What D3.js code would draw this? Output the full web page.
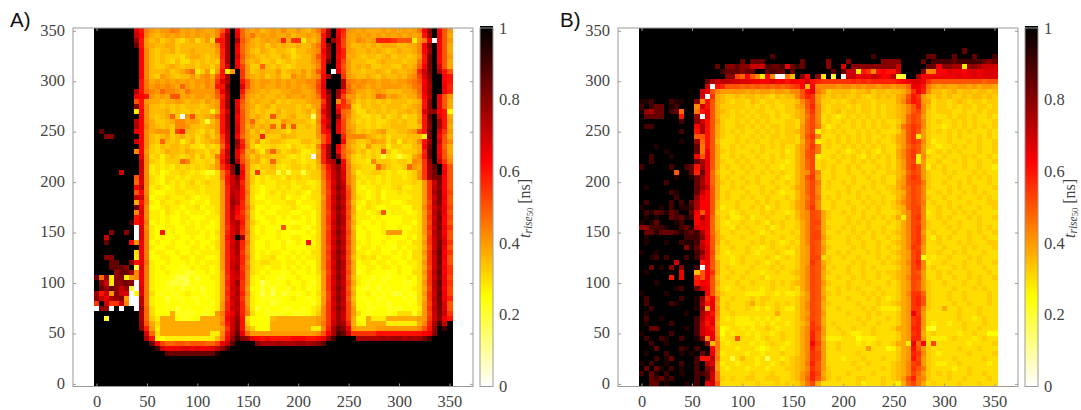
<!DOCTYPE html>
<html><head><meta charset="utf-8">
<script src="https://d3js.org/d3.v7.min.js"></script>
<style>html,body{margin:0;padding:0;background:#fff}svg{display:block}</style>
</head><body><svg id="c" width="1081" height="410"></svg>
<script>
// each character is one cell, value = index in levelCodes / 40 (ns); spaces only help reading
const levelCodes = "0123456789abcdefghijklmnopqrstuvwxyzABCDE";
const xTicks = [0,50,100,150,200,250,300,350];
const yTicks = [0,50,100,150,200,250,300,350];
const barTicks = [0,0.2,0.4,0.6,0.8,1];
const rowsA = [
"EEEEEEEEro igfggihfgf ggffhkrEpj gfgefgfhff gfegimuEqn ggfgfffgfg fgfgipwEpk g",
"EEEEEEEEsp hfefgfgfgf gfgfhnuEqj gifgfgffge ffgfgouEqm gfgfgfgfgf gfgfgovEqk f",
"EEEEEEEEvo gefdefdcef cegcoouEuk hfefgfgnfm mbfegoEvrl gfhgfgnnnm kkkbgiq0pk g",
"EEEEEEEEyo gfeeffdeee eeefhouEqj gfefdfefee feegiowEql geefefefff eeffhpwEpk f",
"EEEEEEEEEp hedeefdeef eeeegnuEpj gedfedeedc eefghpvEqn gfeefefede feefhpvEpk f",
"EEEEEEEEEp hededddcef fedefnuErk gfededdfec deegkouEpn ffedeedefd eedegoxEpk g",
"EEEEEEEEEp hededcecce dededmuEpj fefddecded eeegioyEql geeeddefee edeeioxEpk f",
"EEEEEEEEEp heddefedee deedfmsEql gddjededcd eeefhoEEpk gefefddeed dfefjpxErk f",
"EEEEEEEEEp heeefdefhj bdgbgobgEm gdefeegdef egegkoE0rl geedeefedf eefgnsxEuo k",
"EEEEEEEEEp hedgfedeeg eghfkovEEm gfefdefddh fgeghpuEEm gfeefedfee feghlrwEEp o",
"EEEEEEEEEo ifgfgfgfgf gghgmruEEo kgfggfgfgf gghhkqEEEt ihghggfggf gghikpvEEp o",
"EEEEEEEEEo ighghgfjgf gfhgooxEEr kgfgffgfgf gfghlrEEEt jghgfgfggg gfgijquEEq n",
"EEEEEEEEto jhgjhhgfig ggggkqvEEo hgfefeeffg gffgkpxEvo jhffefgfee effgjqvEEq n",
"EEEEEEEEqp ogfgfkkfgf ggfgjnuEEm gfefeefegf fgfgipuEul ggefefjifg feffipuEqk g",
"EEEEEEEEko gffeffgfef fegfgovEqk gefeefdede eefggmuEhn ifdededede eedefowEqk f",
"EEEEEEEEwo heedededee edefgovEqj gfdefdeeee dedfgouEom ldcedeedee edefgowEqk f",
"EEEEEEEEbp heeefdedde deebfnsErk gededdfdee defdhquEqj ieccededed eefegrvwpo a",
"EEEEEEEEEp hedefjd0gk eefgjouEpk gefedkedef dde6gouEwk hedccdcecd ecddfoyEro f",
"EEEEEEEEtp hfddefhhfg fd8egouEqk gjededdgfe eedchpsErl gecdcdccde deddgoxEuo g",
"EEEEEEEEup ifededhhge edefgouErk fgefejdkdk ddedgouEql gfddcdcdde eeddeowEuo f",
"EyEEEEEEqp hfgggdlnee dcedgotErk gdfdfeedce ddddgoqEql hfdedefgdd eefgloyErm g",
"EEwwEEEEEp hedefdefde cdfdfmsEpj geendddfee ddddgkoEEn hhhhfedecd ddeeebxEpk f",
"EEEEEEEEsp hedjedebdf cdefglsEvn gdgcdeedcc ceedekoEEp gfddegffce bedehovErk h",
"EEEEEEEEEp hdcedeedec cbdcdjqEuo hdbccdccbd ccdchouEqk gedcgddebd dccefpxEpj f",
"EEEEEEEEhp gdcdfeedfe ddcedmtEqm fgdbfjecde dbbcfnuEpj hfdecdcldb cdddfnyEpk f",
"EEEEEEEEEq hcdbdedcde cecdinsEqk gdfdedddcb cbc0gnuEvk gdcdcdc8cb 8bcfhoyEqk g",
"EEEEEEEEEs hdcbdddjhd ccdcgouEul hefcdjdccd cbccfnsuEp hdccbhdddc ddchgmvEsm h",
"EEEEEEEEEs hbcbcbdcdc dcdegmqwEo hdcddecbcd dcdcejotwq iedcccjfdc cdjgfmuyEp k",
"EEEEEsEEEs hbcabccdcb cb99cinvEq hcmcdd8c8c c8cddinsvr iebccddcbc bbcdgmuxEq k",
"EEEEEEEEks hcbaccbcbc ccbccioswp hdbcbccbdc dccddinsvr ifcbccbcbc cbcdgmuxxp k",
"EEEEEEEEjr hcbacbcbcd bcdccgosun hdbcbbcccb ccbbchmrvs ifbcbcbcbc cccdcgmsxp k",
"EEEEEEEEpt hbcbabcbcc cbcccgnsuo hcbabbcbcb bccbchmswt kfbabbcbbc dbbccgmtwp k",
"EEEEEEEEkp hbaabbccbb cbcccgntso icbabcbcbb cbacchlrvs lfbbabcabb cbcccgmuxp l",
"EEEEEEEEss iabbcbbbcb abbccgnuso hcaabbbcab babccgmswt lfcbabcabb bbbccgmsxq k",
"EEEEEEEEfo ibacbbcbba bbaccgnvtn hcbbabbbcc abbbchmrvs kebacbcbba abcccgltxp k",
"EEEEEEEEyq haabcbbabb cabbcgnuqn idaabaabbc baabchmswt lfabcbaabb baacchmsvq l",
"EEEEEEEEhr hbbacbabab bbabcgntpm hcabaabbba abbachlrvs kfbbabckab bbabcgltwq k",
"EEEEEEEEoq hbbabaabba aabbbgnton icaabbabab babachmrwt lebbbabaaa abbbcgmsxp l",
"EEEEEEEAoq iababaabab abbabgnsuo hdbaabaaa9 aabachmswt kfbaababaa abbacgltwp k",
"EEEEEEEE0r hbaabbaabb abaabgmrtn hcabaaakab ba9bchlrvs keabaaabaa baabcgmsxq m",
"EEEwEEwE0r ibaoabaabb babacgnrum icabaabaa9 aabachmswt lfaabaabgg gabbcgltwp k",
"EEsEEEEE0r ibabaabaab aababgosEv hcbaaabaab baabchmrvs kfaabaaaba aabacfmswq k",
"EEyEEEEpgq iabaabaaba baabcgnrun icaabaab9a baoachmswt lfbabaabaa bbaccgmsxr m",
"EEEEEEEEEq ibaabbaaab babacgnsun hcaabaabaa aabbchlrvs kfabbabaa9 babbcflsxq k",
"EEEEEEEEcq iabbaabaab abbbbgnrum hcababbaab abacchmswt lfbbabbaab abaccgmtyp m",
"EEwwEEEEbq iaabbaabba bbaabgnrtn icabbcaaba babbchlsvs kebcbcabba abaccfmsxq k",
"EEEyyEEwoq jbaabaaaba babbbgnstn hcbccbbabb abaachmrwt lfabbabbab aabbcgmsyp k",
"EEEyyywE8r ibabaaa9ab abbabgnsum icbbabbaba babachmswt kfaabbabba baabcflsxq m",
"EEEEvyyuhq ibaaba9a89 aababfnrtn hcbabaa9ab aabacglrvs lf9abaaa9a baaccgmtyp m",
"yjvbwwbghq ibaaa9878a 8aabbfmrsn hbabaa99aa baaabgmswt kebaa9a99a aabacfmsxq l",
"Ewsbwwxw0q ibaa98887a 9aaabfnrvm hba79a9aba aba9bgmrvs lfba9aa9aa a99acgmtyq m",
"Eyvywsv80r ibaa99a8a9 a8aabfmstm gaa8a8aa9b ab9abgmswt kea99a8a9a a9abcfltxp l",
"vosgwsr0ar ica9a99aba a9aabfnrun hba7a7a89a 9abacflrvs lfaab9a9a8 8a9acgmsyq l",
"wsquvwg00t ibaa8a99a9 9a9abfmstm gba9999aab aa9abglswt kea9aa99aa a9a9cfmtxq n",
"mEsmmsh00t ibaa9aa9aa 9aa9bgnrun gba9a89aaa aaa9bgmrvs lfaa9a9a8a aa9acglsyr k",
"0wv0E0EE0v jcaa9a8a9a aa9abgnstn hb8a9aa99a a9abchmswt lgaa99aa99 9aaabgmtxr k",
"EEEEEEEEEu jcaaaf9999 a99agioqun icaa9999a9 99abdhmrvs lgca9aaa9a ccc9cglsxs m",
"EE8EEEEEEu jdbfffa99a affffhpsvo caaaaeffff ffffghmrvs lfaafbbbff ffffggmswq o",
"EEEEEEEEEv kfcfffffff fffffioswo daaaafffff ffffgimsvu nfbaffffbb bbbbfhnuAs E",
"EEEEEEEEEw ngbfffffff fffffgmswo fdaaafffff fffbbhnuyw qgffffgggg gggghkovEA E",
"EEEEEEEEEE rjcfffffff fffbbhotyq jggggggggg gggghkpuAy tmmmmmoooo ooooopqwEE E",
"EEEEEEEEEE uobabbbbbb bbbbeipvAw vqpopoooop ppoopqvAEE EEuuuuuvuv vuvuvxAEEE E",
"EEEEEEEEEE Eypljjkkjk kkjjlqtyEE EEwuuuvuuu vvuvwyEEEE EEEEEEEEEE EEEEEEEEEE E",
"EEEEEEEEEE EEAsqqqrrq rqqrtwAEEE EEEEEEEEEE EEEEEEEEEE EEEEEEEEEE EEEEEEEEEE E",
"EEEEEEEEEE EEEEyyyyyy yyyyCEEEEE EEEEEEEEEE EEEEEEEEEE EEEEEEEEEE EEEEEEEEEE E",
"EEEEEEEEEE EEEEEEEEEE EEEEEEEEEE EEEEEEEEEE EEEEEEEEEE EEEEEEEEEE EEEEEEEEEE E",
"EEEEEEEEEE EEEEEEEEEE EEEEEEEEEE EEEEEEEEEE EEEEEEEEEE EEEEEEEEEE EEEEEEEEEE E",
"EEEEEEEEEE EEEEEEEEEE EEEEEEEEEE EEEEEEEEEE EEEEEEEEEE EEEEEEEEEE EEEEEEEEEE E",
"EEEEEEEEEE EEEEEEEEEE EEEEEEEEEE EEEEEEEEEE EEEEEEEEEE EEEEEEEEEE EEEEEEEEEE E",
"EEEEEEEEEE EEEEEEEEEE EEEEEEEEEE EEEEEEEEEE EEEEEEEEEE EEEEEEEEEE EEEEEEEEEE E",
"EEEEEEEEEE EEEEEEEEEE EEEEEEEEEE EEEEEEEEEE EEEEEEEEEE EEEEEEEEEE EEEEEEEEEE E"
];
const rowsB = [
"EEEEEEEEEE EEEEEEEEEE EEEEEEEEEE EEEEEEEEEE EEEEEEEEEE EEEEEEEEEE EEEEEEEEEE E",
"EEEEEEEEEE EEEEEEEEEE EEEEEEEEEE EEEEEEEEEE EEEEEEEEEE EEEEEEEEEE EEEEEEEEEE E",
"EEEEEEEEEE EEEEEEEEEE EEEEEEEEEE EEEEEEEEEE EEEEEEEEEE EEEEEEEEEE EEEEEEEEEE E",
"EEEEEEEEEE EEEEEEEEEE EEEEEEEEEE EEEEEEEEEE EEEEEEEEEE EEEEEEEEEE EEEEEEEEEE E",
"EEEEEEEEEE EEEEEEEEEE EEEEEEEEEE EEEEEEEEEE EEEEEEEEEE EEEEEEEEEE EEEEyEEEEE E",
"EEEEEEEEEE EEEEEEEEEE EEEEEEzEEE EEEEEEEEEE EEEEEEAEEE EEEEEEEyyE EEyEEEyEEE A",
"EEEEEEEEEE EEEEEEEEEE yEyyyEEEEE EEyEEEEwEE EwEEEEEEww wwEEEEyEAA AAyAAAAAyw y",
"EEEEEEEEEE EEEEEyEwwy wwsssAyyAq yAyEEEEwEE rEwwwwwwww wsEEEEEyyq wwuubvwuss s",
"EEEEEEEEEE EEEEEEAyyy wyyEEyAyyE yEEEEEEEyE yssbomhopo osEEEEwhhp prqqprrqrr r",
"EEEEEEEEEE EEEEEEEwwl jpkhbph00i eEwpEwbE8E 0ssqrqsrpq t88EEupqqq qqqrqqrqrr r",
"EEEEEEEEEE EEEyusttss rrqqpprpqo qppsonmmmm mmnmnmnnnn nopqrrqmkk kkkkkkkkjk k",
"EEEEEEEEEE EEEs0onkkk jkjkjkjkjk lmpephhhhg hhghghhghh ghhjqqoigf gffggfgfgg f",
"EEEEEEEEEE EEsqkhgggg gfgfggfggf hhkoqigdee eedeefdeed eefhmqnhee defdeedeed e",
"EEEEEEEEEE EEr0mfedde deededcede ehknmgeded eddedcdede dfgkomgede deddedeede d",
"CCAEEEACCE Ewhokfedcd dcedcddcdd dehkmgddcd cdedddcddd dfhlongfcd dcdedcddcd d",
"AEAyyECAEE Ehsokfdddd dcdcdcdccd dfgknhdcdd dcdcddcdcd defhknhecd dcdcddcddc d",
"CwuyyEAyjE Eioqkfedcd cdcddccdcd defjmhdcde cddcddcdcd defhklhdcd ddccdccdcd d",
"EyyyyEEEoE Ev0qkfddcd dcdcddcdcc defilhcdcb cdcdcdcdcd defjlkgdcc cdcddcdccd c",
"EEEEEEEEAE Ewsokgdccd cdcdcdcccd dcfjlhcdcc dcdcdcdcdc cdfjlkhdcd ccdcdcdccc d",
"EAAEEEEEEE Epuokfdccd dcdcdcddcd dcgjlidbcd ccdcdcdcdd ceikmlhdcc bcdcdcdcdc d",
"EEEEEEEEAE Eouokfdcdc dccdcdcdcd degjlbdcdc dccdcdcdcc cdgkmkgdcd cdcdcdcccd c",
"EEEEEEEEEE Ekkokfdccd ccdcdcddcd dcgkmhcccd cdcdcdccdc dfgkmbgdcc cdcdcccdcd c",
"EEEEEEEECE Evjokecccd cdcdccdcdd dcfjlbcdcd cdcdcdcdcc dfgkmlhdbc cdcccdcdcc d",
"EEECEEEEEE Eyiokfccdc dcccdcdcdc cegjmicdcc dcdcdcdcdc cegjlkgdcb ccdcdccdcc d",
"EEEEECEEEE Eyiqkfdcdc ccdcdcccdb cegklicccd cbcdcdcbdc cfhkmkgbcd cdcdcccdcc d",
"EEAEEECEEE Epkqkfccdc dccdccdcdc cegklbccdc dcdcbdcdcd cfhkmbhdcc dcccdcdccd c",
"EEAEEEEEEE Eyuqkfdccd cdccdcdccb cegjlcdccd ccdcdcdccd cegklbgccd ccdcdccdcc d",
"AEEEEEAEEA yovqkfcdcc dcdccdccbc cegjlcdcdc cdcdcccdcd cegkmkgbdc dcccdccdcc b",
"EEEEEEEkEE ynyqjeccdc cdccdcdcdc ceghlhccdc cdccdcdccd defjlkgdcc dcdcccdcdc c",
"EEEEEEECEE Cyvqjfcdcc dccdcccdcb cegkmgccdc ccdccdccdc cegkmlgdcc cdcccdcdcd c",
"EEEEEAEEEE Eyuqjfdcdc cdcdccdccd cegjlicdcc dcdcccdcdc cfgkllidcc dccdcdcccd c",
"ECEEEEEEEE Eyvskfccdc dcccdccdcc dfgjlhcdcc cdccdcdccd dfhjlkhdcc cdcdccdccc d",
"EEEEEEACEE Eyspkfcdcc cdccdcdcbc cegjlhcccd cdcdcccdcc defjlkhccd cdccdcdcdc c",
"EEEEEEEAEE Evqpkfcdcc dcdccdcccd cegilicdcd cccdcdccdc cegjlkhdcc dccdcccdcd c",
"EAEEEEAEAE yuppkecccd cccdcdcdcc dfgjlhccdc cdccdcdcdc dfhjlkicdc cdcccdcccd d",
"CEEECEAECC Auppkebccd ccdcdbcdcc dfgjmhccdc ccdccdcdcc defjllhccd cdcdcccdcc d",
"EACyACyAEE yqkpkdccbc dcccdcdccb ceghlkfdcc dcdcdccdcc cdfhllhbcd ccdcdcdccc c",
"ECECEEyAyC Apuqjecdbb cdbccdcccd ceghlkfdcc cdccdcdcdc dfbhlmhccd cdcccdcdcc d",
"CECyEEECAE Eprqjecbcc dccdcbdcdc cdfhllfccc cdcdcdcccd cdfhllhdcc dccdcccdcc c",
"wwAAACEEAy Crqqjeccbd cdcccdbcdc cdfhlkfdcc dcdccdccdc cdfhlmhdcc cdcdcccdcd c",
"EyyCyyyACA yAupjfccdc ccdcbcdccc dcfhllfccd ccdcdcdcdc defhlmgcdc ccdccdcdcc d",
"ECEEEEEEEA AAwqkfdccc dcccdcccdc cdfhllgdcc cdcdccdccd cdfhlmhcbd cdcccdccdc c",
"ECEEECEEAC CAspkfcdcc ccdcdcdcbc dcfhlkfccc cdccdccdcc defhlmhccd cccdcdcccd d",
"EEEEEEEEEw Cytqkeccdc cdccbcdccd cdfglkgdcc ccdcdccdcd cdfhmlgccc dcccdcdccc d",
"CEECEEEEEE EAwqlecbcc cdcbcccdcb bdfglkgccd cdcccdcdcc defglmgccd ccdcdcccdc c",
"EECAEAEEEA EAtqkdccbc dccccdcbcd cdfgllcdcc dccdcccdcd cdfglmacbc cdcccdcdcc c",
"EEEEEEEsEE EEoqkfccbc dccdcbcdcc cdfgmkfdcc ccdcdcccdc defhlnhbcc dcccdccdcc d",
"EEyECEwEwE EA0pkfcdcc ccdcccdcdc cdfhlkgcdc cdccdcdccc cdfglmhcdc ccdcdcccdc c",
"ECEEEEEEqE Eekpmfccdc cdccbccdcc defhlkfdcc cdccdccdcd defglkgccd cdcccdcccd c",
"EEEEEEoEqE Enkpkecdcc dcccdbcccc cdfhlkfccd ccdcdccdcc defhllgccd ccdccdcdcc d",
"EEECEEEEEE Eoqpkfcccd ccdcccdcdc defhlkgdcc cdcccdcccd cdfglkgdcc dcccdccdcc c",
"EEEEEEECAE Eysqkecbcc dcccbcdccc dcfhlkfccd cdcdcccdcc cdfglkgdcc ccdcccdcdc c",
"CEEEECEEEE EEEpkfdccc cbbbbccbcb bceglkfdcd ccccdcdcdc cdfhmmjdcc cdccdccccd c",
"EAEEEEEEAE ECwmphccdc ccdcddcccc cdfglkgccc cdcccdcdcb cdfgmnkdcc cdccdccccd c",
"EAEEEEACEE ECuoqgcdcc cdfcdccdcd cdfhlkfdcc cccdcccdcc defgmnkdcc ccdccdcccd c",
"EEAEEEEEEE ECwfqhcdcc cdcbcbcdcb bdfhlkfccd ccccdcdcbb bcfgmmhdcc fccdcccdcc c",
"ECEEEEEEEC EEurohccdc cccccccfcc cdfglkgccc cdcccdcdcc cdfgqmgccc cccdcccdcc c",
"EAEECEEEEE EAupqgcbcb bbcbcbcbcc cdfhlkfccc cccdcdcccd cdfgmngccc cccdccbcdc c",
"ECEEEEAEEE EAsoqfcccb bbbcbcbccb cdegmkfcdc ccccdccdcc cdfgmngcbc cbccdcccdc c",
"EEyyEEEEEC EAsqogabcc bcbccdcbcc cdfhmlgccd ccdcccdccc dffgnnga8c ccccdccdcc c",
"CEEEEEAEEE EAsqqgacbc cbcbccbcdc cdfhnkgccc dcbbccdccc cdfgmnfcdc cccbccdcca a",
"EAEEACEEAE ECwhqhbcck cccbcdccdc cdfhnkfbbb cccabbbccc cdfgnngcbb bcdcccbcdc c",
"EEAEECEEEE EEEveicbcc ccbcbcdccb cdfhplgccd cccbcbcdcc dffbqjpclc cccccbcccc d",
"EEEyEEEEAC EAEEpicccb cccbabccbc cdfhnkgccd cccccgccca bdfgokgdcc cccdcccdcc c",
"ECEEEAEECE CEyCqhbccc cbccbcccdc cdfhmlgccc cccdcccccc cdfgnmhdcb cccccdcccc d",
"EEEAECyEEE EAooticc8c eccbc7ccbc defhmlgccc bcccdcccdc cdfgolgdcc ccdcccccdc c",
"CEAEECEEAE EAEtrgbccb cccbccbcdc definkgccc ccdccdcccc defhlmgdcb bccdcccccb c",
"EyEyCEAECE EAEwugcbcc cbcccbcccd defhmkgdcc cccdccccdc defhmkidcc ccbccdcccc c",
"AEyCEAEECE EAAysicccc ccdcccdccc deginlfdcc cdccccdccc defhljgdcd cdcccdccdc c",
"EEyAyCAEEE EAEysidcdc cddccdddcc degjnkgdcd cccddcccdc degknihdcc cdccdccccd c",
"EEyyECEEEC EAEqskcccc cccdcccdcd cdfilfcccc cccdbcccdc cbfjlifcdc cccdcccdcc c"
];
const panelLabels = ["A)","B)"];

const hot = d3.scaleLinear().domain([0,0.25,0.625,1]).range(["#ffffff","#ffff00","#ff0000","#000000"]).clamp(true);
const ink = "#444", frame = "#9a9a9a", serif = "'Liberation Serif','DejaVu Serif',serif";
const svg = d3.select("#c");

function decode(rows){
  const out = [];
  rows.forEach((r,k)=>{
    const s = r.replace(/ /g,"");
    for(let i=0;i<71;i++){
      const ch = s[Math.min(i,s.length-1)];
      out.push({x:i*5, y:(70-k)*5, v:levelCodes.indexOf(ch)/40});
    }
  });
  return out;
}

function panel(rows,label,dx,labelX){
  const g = svg.append("g").attr("transform",`translate(${dx},0)`);
  const x = d3.scaleLinear().domain([-2.5,352.5]).range([94,452]);
  const y = d3.scaleLinear().domain([-2.5,352.5]).range([386.4,28.3]);
  const cw = x(5)-x(0), ch = y(0)-y(5);
  g.append("g").attr("shape-rendering","crispEdges").selectAll("rect").data(decode(rows)).join("rect")
    .attr("x",d=>x(d.x)-cw/2).attr("y",d=>y(d.y)-ch/2)
    .attr("width",cw+0.5).attr("height",ch+0.5)
    .attr("fill",d=>hot(d.v));
  const L=73,R=473,T=28,B=386.5;
  g.append("rect").attr("x",L).attr("y",T).attr("width",R-L).attr("height",B-T)
    .attr("fill","none").attr("stroke",frame).attr("stroke-width",1);
  const axB = d3.axisBottom(x).tickValues(xTicks).tickSize(-3).tickPadding(9).tickFormat(d3.format("d"));
  const axT = d3.axisTop(x).tickValues(xTicks).tickSize(-3).tickFormat("");
  const axL = d3.axisLeft(y).tickValues(yTicks).tickSize(-3).tickPadding(8).tickFormat(d3.format("d"));
  const axR = d3.axisRight(y).tickValues(yTicks).tickSize(-3).tickFormat("");
  const put=(ax,tx,ty,left)=>{
    const a=g.append("g").attr("transform",`translate(${tx},${ty})`).call(ax);
    a.select(".domain").remove();
    a.selectAll("line").attr("stroke",frame);
    a.selectAll("text").attr("fill",ink).attr("font-family",serif).attr("font-size",16.5);
    if(left) a.selectAll("text").attr("dy","0.26em");
  };
  put(axB,0,B);put(axT,0,T);put(axL,L,0,true);put(axR,R,0);
  const cy = d3.scaleLinear().domain([0,1]).range([386.5,28]);
  const steps = d3.range(0,256).map(i=>i/255);
  g.append("g").attr("shape-rendering","crispEdges").selectAll("rect").data(steps).join("rect")
    .attr("x",480).attr("width",13)
    .attr("y",d=>cy(d)-358.5/256-0.3).attr("height",358.5/256+0.6)
    .attr("fill",d=>hot(d));
  g.append("rect").attr("x",480).attr("y",28).attr("width",13).attr("height",358.5)
    .attr("fill","none").attr("stroke",frame).attr("stroke-width",1);
  g.append("g").selectAll("text").data(barTicks).join("text")
    .attr("x",499).attr("y",d=>cy(d)+ (d===1?6:d===0?5:5.5))
    .attr("fill",ink).attr("font-family",serif).attr("font-size",16.5)
    .text(d=>d);
  const t = g.append("text").attr("transform","translate(529.5,238) rotate(-90)")
    .attr("fill",ink).attr("font-family",serif).attr("font-size",16);
  t.append("tspan").attr("font-style","italic").text("t");
  t.append("tspan").attr("font-style","italic").attr("font-size",11.5).attr("dy",2.5).text("rise");
  t.append("tspan").attr("font-size",8.5).attr("dy",1).text("50");
  t.append("tspan").attr("dy",-3.5).text(" [ns]");
  g.append("text").attr("x",labelX).attr("y",27)
    .attr("font-family","'Liberation Sans',Arial,sans-serif").attr("font-size",20.5).attr("fill","#111").text(label);
}
panel(rowsA,panelLabels[0],0,10);
panel(rowsB,panelLabels[1],545,15);
</script></body></html>
